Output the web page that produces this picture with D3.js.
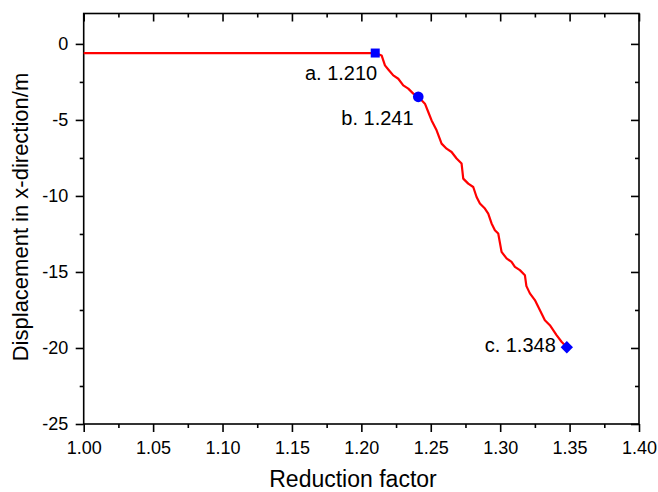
<!DOCTYPE html>
<html>
<head>
<meta charset="utf-8">
<script src="https://cdn.jsdelivr.net/npm/d3@7"></script>
<style>
  html, body { margin: 0; padding: 0; background: #fff; }
  svg { display: block; font-family: "Liberation Sans", Arial, sans-serif; }
</style>
</head>
<body>
<svg id="chart" width="658" height="492"></svg>
<script>
// Displacement curve: reduction factor vs. x-displacement (m)
const factor = [1.000, 1.210, 1.2146, 1.2170, 1.2194, 1.2230, 1.2266, 1.2302, 1.2338, 1.2374, 1.241,
  1.2458, 1.2482, 1.2506, 1.2542, 1.2578, 1.2614, 1.2650, 1.2686, 1.2722, 1.2734, 1.2770, 1.2806,
  1.2830, 1.2854, 1.2890, 1.2914, 1.2938, 1.2962, 1.2986, 1.3010, 1.3046, 1.3082, 1.3106, 1.3142,
  1.3178, 1.3189, 1.3214, 1.3250, 1.3274, 1.3298, 1.3322, 1.3358, 1.3382, 1.3406, 1.3442, 1.348];
const displacement = [-0.6, -0.6, -0.76, -1.41, -1.68, -2.07, -2.29, -2.73, -2.94, -3.27, -3.48,
  -3.93, -4.48, -5.03, -5.68, -6.56, -6.89, -7.11, -7.54, -7.87, -8.86, -9.19, -9.41,
  -10.07, -10.50, -10.83, -11.16, -11.81, -12.25, -12.47, -13.68, -14.11, -14.34, -14.66, -14.88,
  -15.21, -15.93, -16.41, -16.85, -17.29, -17.73, -18.17, -18.50, -18.82, -19.15, -19.59, -19.95];

// Marked stages
const stageLabels = ["a. 1.210", "b. 1.241", "c. 1.348"];
const stageFactor = [1.210, 1.241, 1.348];
const stageDisp = [-0.6, -3.48, -19.95];
const stageSymbol = ["square", "circle", "diamond"];

// Axis ticks
const xTicks = [1.00, 1.05, 1.10, 1.15, 1.20, 1.25, 1.30, 1.35, 1.40];
const yTicks = [0, -5, -10, -15, -20, -25];
const xMinor = [1.025, 1.075, 1.125, 1.175, 1.225, 1.275, 1.325, 1.375];
const yMinor = [-2.5, -7.5, -12.5, -17.5, -22.5];

const svg = d3.select("#chart");
const plotL = 83.7, plotR = 639, plotT = 13.5, plotB = 424;

const x = d3.scaleLinear().domain([1.0, 1.4]).range([plotL, plotR]);
const y = d3.scaleLinear().domain([-25, 2]).range([plotB, plotT]);

const axisW = 1.6;

// Frame
svg.append("rect")
  .attr("x", plotL).attr("y", plotT)
  .attr("width", plotR - plotL).attr("height", plotB - plotT)
  .attr("fill", "none").attr("stroke", "#000").attr("stroke-width", axisW);

function styleAxis(g) {
  g.select(".domain").remove();
  g.selectAll(".tick line").attr("stroke", "#000").attr("stroke-width", axisW);
  g.selectAll(".tick text").attr("fill", "#000").style("font-size", "18px")
    .style("font-family", "'Liberation Sans', Arial, sans-serif");
}

// Bottom axis (outward ticks)
svg.append("g").attr("transform", `translate(0,${plotB})`)
  .call(d3.axisBottom(x).tickValues(xTicks).tickFormat(d3.format(".2f")).tickSize(8).tickPadding(9))
  .call(styleAxis);
svg.append("g").attr("transform", `translate(0,${plotB})`)
  .call(d3.axisBottom(x).tickValues(xMinor).tickFormat("").tickSize(4))
  .call(styleAxis);

// Top axis (inward ticks)
svg.append("g").attr("transform", `translate(0,${plotT})`)
  .call(d3.axisBottom(x).tickValues(xTicks).tickFormat("").tickSize(8))
  .call(styleAxis);
svg.append("g").attr("transform", `translate(0,${plotT})`)
  .call(d3.axisBottom(x).tickValues(xMinor).tickFormat("").tickSize(4))
  .call(styleAxis);

// Left axis (outward ticks), plain hyphen for negatives
svg.append("g").attr("transform", `translate(${plotL},0)`)
  .call(d3.axisLeft(y).tickValues(yTicks).tickFormat(d => String(d)).tickSize(8).tickPadding(7.5))
  .call(styleAxis);
svg.append("g").attr("transform", `translate(${plotL},0)`)
  .call(d3.axisLeft(y).tickValues(yMinor).tickFormat("").tickSize(4))
  .call(styleAxis);

// Right axis (inward ticks)
svg.append("g").attr("transform", `translate(${plotR},0)`)
  .call(d3.axisLeft(y).tickValues(yTicks).tickFormat("").tickSize(8))
  .call(styleAxis);
svg.append("g").attr("transform", `translate(${plotR},0)`)
  .call(d3.axisLeft(y).tickValues(yMinor).tickFormat("").tickSize(4))
  .call(styleAxis);

// Axis titles
svg.append("text")
  .attr("x", 353).attr("y", 487)
  .attr("text-anchor", "middle").style("font-size", "23px").attr("fill", "#000")
  .text("Reduction factor");
svg.append("text")
  .attr("transform", `translate(28,217) rotate(-90)`)
  .attr("text-anchor", "middle").style("font-size", "22px").attr("fill", "#000")
  .text("Displacement in x-direction/m");

// Curve
const pts = factor.map((f, i) => [f, displacement[i]]);
svg.append("path")
  .datum(pts)
  .attr("fill", "none").attr("stroke", "#ff0000").attr("stroke-width", 2.2)
  .attr("stroke-linejoin", "round")
  .attr("d", d3.line().x(d => x(d[0])).y(d => y(d[1])));

// Stage markers
const symType = { square: d3.symbolSquare, circle: d3.symbolCircle, diamond: d3.symbolDiamond2 };
const symSize = { square: 81, circle: 89, diamond: 98 };
stageFactor.forEach((f, i) => {
  const s = stageSymbol[i];
  svg.append("path")
    .attr("d", d3.symbol().type(symType[s]).size(symSize[s])())
    .attr("fill", "#0000ff")
    .attr("transform", `translate(${x(f)},${y(stageDisp[i])})`);
});

// Stage labels
const labelOffsets = [[2, 27.4], [-4.7, 27.8], [-11, 4.7]];
stageFactor.forEach((f, i) => {
  svg.append("text")
    .attr("x", x(f) + labelOffsets[i][0])
    .attr("y", y(stageDisp[i]) + labelOffsets[i][1])
    .attr("text-anchor", "end").style("font-size", "20px").attr("fill", "#000")
    .text(stageLabels[i]);
});
</script>
</body>
</html>
